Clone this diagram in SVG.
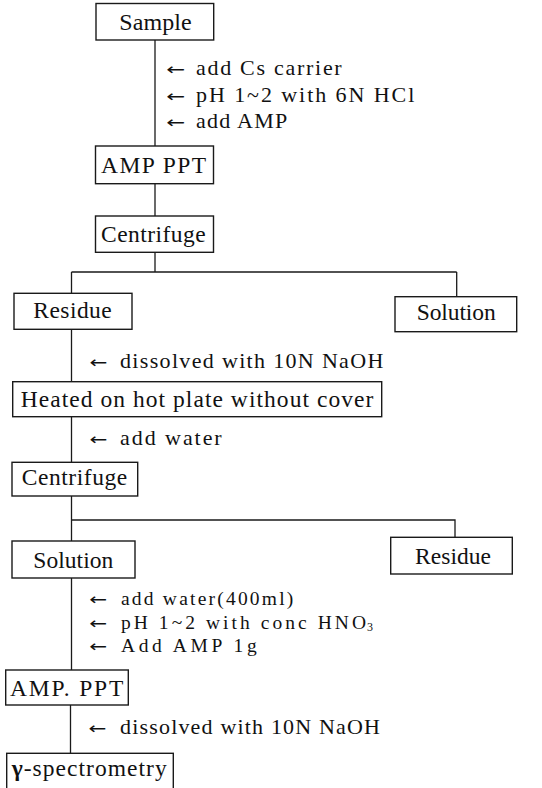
<svg xmlns="http://www.w3.org/2000/svg" width="542" height="788" viewBox="0 0 542 788">
<style>
.box{fill:#fff;stroke:#1a1a1a;stroke-width:1.4}
.ln{fill:none;stroke:#1a1a1a;stroke-width:1.3}
text{font-family:"Liberation Serif","DejaVu Serif",serif;fill:#111}
.n{font-size:23.5px}
.l{font-size:22px}
.s{font-size:19.5px}
.ar{font-family:"DejaVu Sans","Liberation Sans",sans-serif;font-size:16px}
</style>
<rect width="542" height="788" fill="#fff"/>
<g id="connectors">
<path class="ln" d="M155,40 V146"/>
<path class="ln" d="M155,183.7 V216"/>
<path class="ln" d="M155,252.3 V272 M71.5,272 H456.7 M71.5,272 V293.3 M456.7,272 V296.7"/>
<path class="ln" d="M71.5,329.3 V381.7"/>
<path class="ln" d="M71.5,416.7 V462.3"/>
<path class="ln" d="M71.5,496 V541 M71.5,520 H455 V537.3"/>
<path class="ln" d="M71.5,578 V670"/>
<path class="ln" d="M70.5,705 V753.3"/>
</g>
<g id="sample">
<rect class="box" x="96" y="3.5" width="117.7" height="36.5"/>
<text class="n" x="119.3" y="29.5" textLength="72.4" lengthAdjust="spacing" style="font-size:24px">Sample</text>
</g>
<g id="step1-labels">
<text class="ar" x="166" y="75" textLength="19" lengthAdjust="spacingAndGlyphs">←</text>
<text class="l" x="196" y="75" textLength="145.7" lengthAdjust="spacing">add Cs carrier</text>
<text class="ar" x="166" y="101.5" textLength="19" lengthAdjust="spacingAndGlyphs">←</text>
<text class="l" x="196" y="101.5" textLength="218.3" lengthAdjust="spacing">pH 1~2 with 6N HCl</text>
<text class="ar" x="166" y="128" textLength="19" lengthAdjust="spacingAndGlyphs">←</text>
<text class="l" x="196" y="128" textLength="91.3" lengthAdjust="spacing">add AMP</text>
</g>
<g id="amp-ppt-1">
<rect class="box" x="95.5" y="146" width="118" height="37.7"/>
<text class="n" x="101" y="172.7" textLength="105" lengthAdjust="spacing">AMP PPT</text>
</g>
<g id="centrifuge-1">
<rect class="box" x="95.5" y="216" width="118" height="36.3"/>
<text class="n" x="101" y="242" textLength="104.7" lengthAdjust="spacing">Centrifuge</text>
</g>
<g id="residue-1">
<rect class="box" x="14" y="293.3" width="118" height="36"/>
<text class="n" x="33.3" y="318.3" textLength="78.4" lengthAdjust="spacing">Residue</text>
</g>
<g id="solution-1">
<rect class="box" x="395" y="296.7" width="121.7" height="35"/>
<text class="n" x="416.7" y="320.3" textLength="79" lengthAdjust="spacing">Solution</text>
</g>
<g id="step2-labels">
<text class="ar" x="89.3" y="368.3" textLength="18" lengthAdjust="spacingAndGlyphs">←</text>
<text class="l" x="120" y="368.3" textLength="263.3" lengthAdjust="spacing">dissolved with 10N NaOH</text>
</g>
<g id="heated">
<rect class="box" x="12.7" y="381.7" width="369" height="35"/>
<text class="n" x="20.7" y="406.7" textLength="352.6" lengthAdjust="spacing">Heated on hot plate without cover</text>
</g>
<g id="step3-labels">
<text class="ar" x="89.3" y="445" textLength="18" lengthAdjust="spacingAndGlyphs">←</text>
<text class="l" x="120" y="445" textLength="101.7" lengthAdjust="spacing">add water</text>
</g>
<g id="centrifuge-2">
<rect class="box" x="12" y="462.3" width="125.7" height="33.7"/>
<text class="n" x="21.7" y="485" textLength="105.6" lengthAdjust="spacing">Centrifuge</text>
</g>
<g id="solution-2">
<rect class="box" x="12" y="541" width="123" height="37"/>
<text class="n" x="33.3" y="568" textLength="80" lengthAdjust="spacing">Solution</text>
</g>
<g id="residue-2">
<rect class="box" x="390.7" y="537.3" width="121.6" height="36.7"/>
<text class="n" x="415" y="564.3" textLength="76" lengthAdjust="spacing">Residue</text>
</g>
<g id="step4-labels">
<text class="ar" x="89" y="605" textLength="18" lengthAdjust="spacingAndGlyphs">←</text>
<text class="s" x="121" y="605" textLength="172.3" lengthAdjust="spacing">add water(400ml)</text>
<text class="ar" x="89" y="628.5" textLength="18" lengthAdjust="spacingAndGlyphs">←</text>
<text class="s" x="121" y="628.5" textLength="245" lengthAdjust="spacing">pH 1~2 with conc HNO</text>
<text x="367" y="631" style="font-size:12px">3</text>
<text class="ar" x="89" y="652" textLength="18" lengthAdjust="spacingAndGlyphs">←</text>
<text class="s" x="121" y="652" textLength="135.7" lengthAdjust="spacing">Add AMP 1g</text>
</g>
<g id="amp-ppt-2">
<rect class="box" x="5.7" y="670" width="122.6" height="35"/>
<text class="n" x="10" y="696" textLength="113.3" lengthAdjust="spacing">AMP. PPT</text>
</g>
<g id="step5-labels">
<text class="ar" x="88.3" y="734.3" textLength="18" lengthAdjust="spacingAndGlyphs">←</text>
<text class="l" x="120" y="734.3" textLength="260" lengthAdjust="spacing">dissolved with 10N NaOH</text>
</g>
<g id="spectrometry">
<rect class="box" x="6.7" y="753.3" width="166.6" height="50"/>
<text class="n" x="11.7" y="776" textLength="155" lengthAdjust="spacing"><tspan font-weight="bold">γ</tspan>-spectrometry</text>
</g>
</svg>
